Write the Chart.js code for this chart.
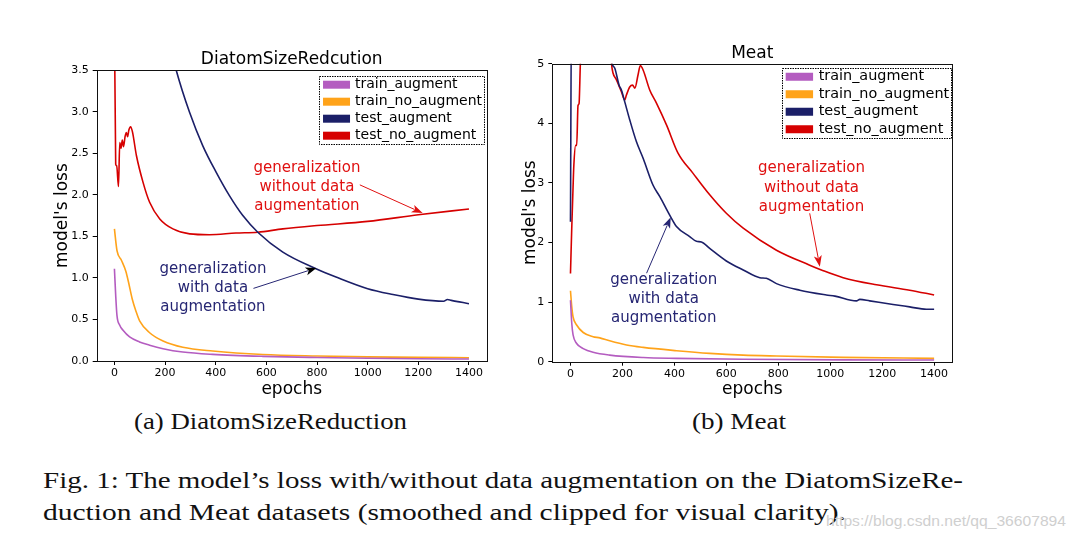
<!DOCTYPE html>
<html>
<head>
<meta charset="utf-8">
<script src="https://cdn.jsdelivr.net/npm/chart.js@4.4.0/dist/chart.umd.min.js"></script>
<style>
  body { margin: 0; background: #fff; }
  #page { position: relative; width: 1075px; height: 542px; overflow: hidden; background: #fff; }
  canvas { position: absolute; top: 0; }
  .cap { position: absolute; font-family: 'Liberation Serif', 'DejaVu Serif', serif; color: #111;
         white-space: nowrap; line-height: 1; transform-origin: 0 50%; }
  #mark { position: absolute; font-family: 'Liberation Sans', sans-serif; color: #cfcfcf;
          white-space: nowrap; line-height: 1; transform-origin: 0 50%; }
</style>
</head>
<body>
<div id="page">
  <canvas id="diatom" width="490" height="400" style="left:0px"></canvas>
  <canvas id="meat" width="585" height="400" style="left:490px"></canvas>
  <div class="cap" id="capA" data-w="273" style="left:134px;top:410px;font-size:23px">(a) DiatomSizeReduction</div>
  <div class="cap" id="capB" data-w="94" style="left:692px;top:410px;font-size:23px">(b) Meat</div>
  <div class="cap" id="fig1" data-w="920" style="left:43px;top:469px;font-size:23px">Fig. 1: The model’s loss with/without data augmentation on the DiatomSizeRe-</div>
  <div class="cap" id="fig2" data-w="803" style="left:43px;top:501px;font-size:23px">duction and Meat datasets (smoothed and clipped for visual clarity).</div>
  <div id="mark" data-w="240" style="left:826px;top:513px;font-size:15px">https://blog.csdn.net/qq_36607894</div>
</div>
<script>
// tick labels
const xTickLabels = ['0', '200', '400', '600', '800', '1000', '1200', '1400'];
const diatomYTickLabels = ['0.0', '0.5', '1.0', '1.5', '2.0', '2.5', '3.0', '3.5'];
const meatYTickLabels = ['0', '1', '2', '3', '4', '5'];

const seriesNames = ['train_augment', 'train_no_augment', 'test_augment', 'test_no_augment'];
const seriesColors = ['#b45cc0', '#ffa31a', '#1b1f68', '#d60000'];

// DiatomSizeRedcution (values above 3.5 are clipped in the figure)
const diatomTrainAugEpochs = [0, 5, 10, 21, 34, 60, 99, 139, 192, 270, 388, 586, 800, 1000, 1200, 1400];
const diatomTrainAugLoss = [1.11, 0.79, 0.55, 0.43, 0.37, 0.29, 0.23, 0.19, 0.148, 0.108, 0.08, 0.056, 0.042, 0.033, 0.027, 0.024];

const diatomTrainNoAugEpochs = [0, 10, 28, 45, 57, 70, 85, 100, 139, 192, 270, 388, 586, 800, 1000, 1200, 1400];
const diatomTrainNoAugLoss = [1.59, 1.33, 1.21, 1.08, 0.93, 0.75, 0.60, 0.48, 0.34, 0.24, 0.165, 0.12, 0.078, 0.06, 0.05, 0.044, 0.04];

const diatomTestAugEpochs = [150, 200, 244, 297, 349, 402, 454, 507, 566, 665, 796, 875, 1000, 1100, 1200, 1300, 1315, 1330, 1400];
const diatomTestAugLoss = [4.75, 4.05, 3.5, 2.99, 2.59, 2.27, 1.99, 1.75, 1.55, 1.31, 1.11, 1.01, 0.87, 0.80, 0.745, 0.72, 0.74, 0.73, 0.69];

const diatomTestNoAugEpochs = [0, 5, 9, 16, 21, 26, 31, 36, 42, 47, 52, 57, 64, 71, 87, 113, 139, 179, 231, 297, 375, 480, 566, 665, 800, 1000, 1200, 1400];
const diatomTestNoAugLoss = [4.2, 2.37, 2.35, 2.10, 2.63, 2.56, 2.66, 2.58, 2.70, 2.75, 2.70, 2.78, 2.82, 2.76, 2.47, 2.15, 1.91, 1.71, 1.59, 1.53, 1.52, 1.54, 1.55, 1.59, 1.63, 1.68, 1.76, 1.83];

// Meat (values above 5 are clipped in the figure)
const meatTrainAugEpochs = [0, 5, 10, 23, 49, 87, 151, 280, 408, 665, 1050, 1400];
const meatTrainAugLoss = [1.03, 0.64, 0.45, 0.31, 0.22, 0.157, 0.11, 0.07, 0.056, 0.04, 0.03, 0.028];

const meatTrainNoAugEpochs = [0, 5, 10, 23, 49, 87, 113, 151, 216, 280, 408, 536, 665, 793, 1050, 1400];
const meatTrainNoAugLoss = [1.19, 0.92, 0.75, 0.62, 0.49, 0.42, 0.40, 0.35, 0.28, 0.24, 0.185, 0.14, 0.11, 0.095, 0.073, 0.056];

const meatTestAugEpochs = [0, 4, 150, 160, 171, 187, 196, 209, 228, 254, 280, 318, 344, 382, 408, 459, 485, 504, 536, 600, 665, 729, 754, 793, 883, 985, 1018, 1101, 1114, 1152, 1242, 1306, 1370, 1400];
const meatTestAugLoss = [2.35, 6.0, 5.3, 5.0, 4.92, 4.64, 4.56, 4.36, 4.06, 3.69, 3.41, 2.96, 2.77, 2.46, 2.27, 2.10, 2.02, 2.01, 1.90, 1.69, 1.54, 1.41, 1.40, 1.31, 1.20, 1.12, 1.10, 1.02, 1.045, 1.02, 0.96, 0.92, 0.88, 0.88];

const meatTestNoAugEpochs = [0, 5, 10, 13, 20, 24, 29, 33, 38, 45, 150, 158, 164, 177, 196, 209, 215, 228, 239, 248, 260, 269, 280, 305, 331, 370, 414, 472, 536, 600, 665, 793, 921, 966, 1050, 1178, 1306, 1400];
const meatTestNoAugLoss = [1.48, 2.26, 2.94, 3.3, 3.63, 3.63, 4.3, 4.33, 5.0, 5.6, 5.6, 5.0, 4.84, 4.73, 4.53, 4.39, 4.47, 4.61, 4.64, 4.59, 4.81, 4.97, 4.89, 4.56, 4.34, 3.97, 3.5, 3.16, 2.80, 2.49, 2.24, 1.87, 1.62, 1.54, 1.41, 1.29, 1.20, 1.12];

Chart.defaults.font.family = '"DejaVu Sans", sans-serif';
Chart.defaults.color = '#000';

function points(epochs, loss) {
  return epochs.map((e, i) => ({ x: e, y: loss[i] }));
}

function makeDatasets(series) {
  return series.map((s, i) => ({
    label: seriesNames[i],
    data: points(s[0], s[1]),
    borderColor: seriesColors[i],
    backgroundColor: seriesColors[i],
    borderWidth: 1.6,
    pointRadius: 0,
    cubicInterpolationMode: 'monotone',
    fill: false
  }));
}

// box around the axes, like the matplotlib spines
const framePlugin = {
  id: 'frame',
  afterDatasetsDraw(chart) {
    const { ctx, chartArea: a } = chart;
    ctx.save();
    ctx.strokeStyle = '#111';
    ctx.lineWidth = 1;
    ctx.strokeRect(Math.round(a.left) + 0.5, Math.round(a.top) + 0.5,
      Math.round(a.right - a.left), Math.round(a.bottom - a.top));
    ctx.restore();
  }
};

// text labels with arrows pointing at the curves
const notesPlugin = {
  id: 'notes',
  afterDatasetsDraw(chart, args, opts) {
    const { ctx, scales: { x, y } } = chart;
    (opts.items || []).forEach(n => {
      ctx.save();
      ctx.font = n.size + 'px "DejaVu Sans"';
      ctx.fillStyle = n.color;
      ctx.textAlign = 'center';
      ctx.textBaseline = 'middle';
      const cx = x.getPixelForValue(n.at[0]);
      const cy = y.getPixelForValue(n.at[1]);
      n.lines.forEach((t, i) => ctx.fillText(t, cx, cy + (i - (n.lines.length - 1) / 2) * n.lead));

      const x0 = x.getPixelForValue(n.from[0]), y0 = y.getPixelForValue(n.from[1]);
      const x1 = x.getPixelForValue(n.to[0]), y1 = y.getPixelForValue(n.to[1]);
      const ang = Math.atan2(y1 - y0, x1 - x0);
      const hl = 11, hw = 4;
      ctx.strokeStyle = n.color;
      ctx.lineWidth = 1;
      ctx.beginPath();
      ctx.moveTo(x0, y0);
      ctx.lineTo(x1 - Math.cos(ang) * hl * 0.8, y1 - Math.sin(ang) * hl * 0.8);
      ctx.stroke();
      ctx.fillStyle = n.head || n.color;
      ctx.beginPath();
      ctx.moveTo(x1, y1);
      ctx.lineTo(x1 - Math.cos(ang) * hl - Math.sin(ang) * hw, y1 - Math.sin(ang) * hl + Math.cos(ang) * hw);
      ctx.lineTo(x1 - Math.cos(ang) * hl * 0.75, y1 - Math.sin(ang) * hl * 0.75);
      ctx.lineTo(x1 - Math.cos(ang) * hl + Math.sin(ang) * hw, y1 - Math.sin(ang) * hl - Math.cos(ang) * hw);
      ctx.closePath();
      ctx.fill();
      ctx.restore();
    });
  }
};

// legend in a dotted box at the upper right of the axes
const boxLegendPlugin = {
  id: 'boxLegend',
  afterDraw(chart, args, o) {
    const { ctx, chartArea: a } = chart;
    ctx.save();
    ctx.font = o.fontSize + 'px "DejaVu Sans"';
    const sets = chart.data.datasets;
    const tw = Math.max(...sets.map(d => ctx.measureText(d.label).width));
    const w = o.padX + o.swatchW + o.gap + tw + o.padR;
    const h = sets.length * o.rowH;
    const bx = a.right - o.right - w;
    const by = a.top + o.top;
    ctx.fillStyle = '#fff';
    ctx.fillRect(bx, by, w, h);
    ctx.setLineDash([1.5, 1]);
    ctx.strokeStyle = '#000';
    ctx.lineWidth = 1;
    ctx.strokeRect(Math.round(bx) + 0.5, Math.round(by) + 0.5, Math.round(w), Math.round(h));
    ctx.setLineDash([]);
    ctx.textBaseline = 'middle';
    sets.forEach((d, i) => {
      const cy = by + o.rowH * (i + 0.5);
      ctx.fillStyle = d.borderColor;
      ctx.fillRect(bx + o.padX, cy - o.swatchH / 2, o.swatchW, o.swatchH);
      ctx.fillStyle = '#000';
      ctx.fillText(d.label, bx + o.padX + o.swatchW + o.gap, cy);
    });
    ctx.restore();
  }
};

function makeChart(id, c) {
  return new Chart(document.getElementById(id), {
    type: 'line',
    data: { datasets: makeDatasets(c.series) },
    options: {
      responsive: false,
      animation: false,
      events: [],
      devicePixelRatio: 1,
      layout: { padding: c.padding },
      scales: {
        x: {
          type: 'linear',
          min: -70,
          max: 1470,
          afterFit: s => { s.height = c.xAxisH; },
          border: { display: false },
          grid: { drawOnChartArea: false, drawTicks: true, tickLength: 4, color: '#000' },
          ticks: {
            stepSize: 200,
            includeBounds: false,
            padding: 2,
            maxRotation: 0,
            font: { size: 11 },
            callback: (v, i) => xTickLabels[i]
          },
          title: { display: true, text: 'epochs', font: { size: 17 }, padding: { top: 0, bottom: c.xTitlePad } }
        },
        y: {
          min: 0,
          max: c.yMax,
          afterFit: s => { s.width = c.yAxisW; },
          border: { display: false },
          grid: { drawOnChartArea: false, drawTicks: true, tickLength: 4, color: '#000' },
          ticks: {
            stepSize: c.yStep,
            padding: 4,
            font: { size: 11 },
            callback: (v, i) => c.yLabels[i]
          },
          title: { display: true, text: "model's loss", font: { size: 17 }, padding: { top: c.yTitlePad, bottom: 0 } }
        }
      },
      plugins: {
        legend: { display: false },
        tooltip: { enabled: false },
        title: {
          display: true,
          text: c.title,
          fullSize: false,
          color: '#000',
          font: { size: 17, weight: 'normal' },
          padding: c.titlePad
        },
        notes: { items: c.notes },
        boxLegend: c.legend
      }
    },
    plugins: [framePlugin, notesPlugin, boxLegendPlugin]
  });
}

makeChart('diatom', {
  title: 'DiatomSizeRedcution',
  series: [
    [diatomTrainAugEpochs, diatomTrainAugLoss],
    [diatomTrainNoAugEpochs, diatomTrainNoAugLoss],
    [diatomTestAugEpochs, diatomTestAugLoss],
    [diatomTestNoAugEpochs, diatomTestNoAugLoss]
  ],
  yMax: 3.5, yStep: 0.5, yLabels: diatomYTickLabels,
  padding: { left: 46.7, right: 3.3, top: 0, bottom: 0 },
  titlePad: { top: 49.8, bottom: 0 },
  xAxisH: 39, xTitlePad: 0,
  yAxisW: 50, yTitlePad: 5.8,
  legend: { fontSize: 14, padX: 3.7, swatchW: 27, swatchH: 8, gap: 5, padR: 2, rowH: 17, right: 2.7, top: 6 },
  notes: [
    { lines: ['generalization', 'without data', 'augmentation'], color: '#e01010', size: 15, lead: 19,
      at: [760, 2.09], from: [969, 2.12], to: [1217, 1.78] },
    { lines: ['generalization', 'with data', 'augmentation'], color: '#262673', head: '#000', size: 15, lead: 19,
      at: [389, 0.88], from: [549, 0.874], to: [798, 1.12] }
  ]
});

makeChart('meat', {
  title: 'Meat',
  series: [
    [meatTrainAugEpochs, meatTrainAugLoss],
    [meatTrainNoAugEpochs, meatTrainNoAugLoss],
    [meatTestAugEpochs, meatTestAugLoss],
    [meatTestNoAugEpochs, meatTestNoAugLoss]
  ],
  yMax: 5, yStep: 1, yLabels: meatYTickLabels,
  padding: { left: 26.3, right: 122.7, top: 0, bottom: 0 },
  titlePad: { top: 43.1, bottom: 0.2 },
  xAxisH: 38.3, xTitlePad: 0,
  yAxisW: 36, yTitlePad: 3.8,
  legend: { fontSize: 14.4, padX: 3.6, swatchW: 27.4, swatchH: 8, gap: 5.6, padR: 1.5, rowH: 17.5, right: 1.6, top: 4.3 },
  notes: [
    { lines: ['generalization', 'without data', 'augmentation'], color: '#e01010', size: 15, lead: 19.5,
      at: [928, 2.92], from: [921, 2.49], to: [960, 1.595] },
    { lines: ['generalization', 'with data', 'augmentation'], color: '#262673', size: 15, lead: 19,
      at: [359, 1.05], from: [293, 1.485], to: [386, 2.425] }
  ]
});

// squeeze/stretch the caption lines to the widths they have in the figure
document.querySelectorAll('.cap, #mark').forEach(el => {
  const w = el.getBoundingClientRect().width;
  el.style.transform = 'scaleX(' + (Number(el.dataset.w) / w) + ')';
});
</script>
</body>
</html>
